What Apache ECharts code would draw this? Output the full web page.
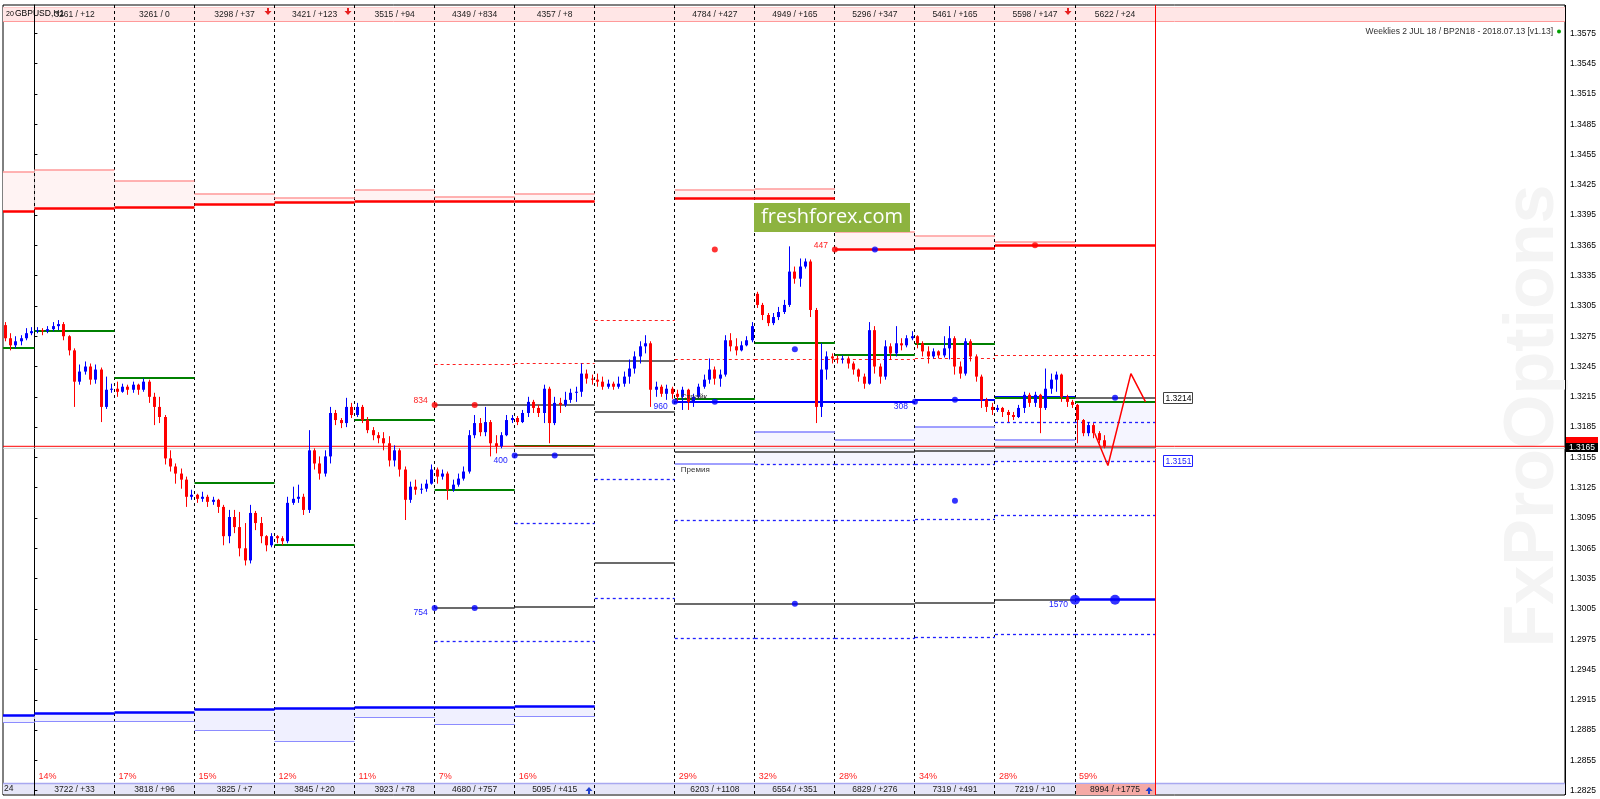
<!DOCTYPE html>
<html><head><meta charset="utf-8">
<script src="https://cdn.jsdelivr.net/npm/echarts@6/dist/echarts.min.js"></script>
<style>html,body{margin:0;padding:0;background:#fff}#c{width:1600px;height:799px}</style>
</head><body><div id="c"></div><script>
// ---------------- DATA ----------------
const symbolTitle = 'GBPUSD,H1';
const infoLabel = 'Weeklies 2 JUL 18 / BP2N18 - 2018.07.13 [v1.13]';
const yTicks = [1.2825,1.2855,1.2885,1.2915,1.2945,1.2975,1.3005,1.3035,1.3065,1.3095,1.3125,1.3155,1.3185,1.3215,1.3245,1.3275,1.3305,1.3335,1.3365,1.3395,1.3425,1.3455,1.3485,1.3515,1.3545,1.3575];
const bidPrice = 1.3166, bidLabel = '1.3165', askPrice = 1.3170;

// weeks: index 0 = partial week -1, then weeks 0..13
const weekIds = [-1,0,1,2,3,4,5,6,7,8,9,10,11,12,13];
const cellWeeks = [0,1,2,3,4,5,6,7,8,9,10,11,12,13];
const topCells = ['3261 / +12','3261 / 0','3298 / +37','3421 / +123','3515 / +94','4349 / +834','4357 / +8','','4784 / +427','4949 / +165','5296 / +347','5461 / +165','5598 / +147','5622 / +24'];
const topMarked = [2,3,12];
const bottomCells = ['3722 / +33','3818 / +96','3825 / +7','3845 / +20','3923 / +78','4680 / +757','5095 / +415','','6203 / +1108','6554 / +351','6829 / +276','7319 / +491','7219 / +10','8994 / +1775'];
const bottomPercents = ['14%','17%','15%','12%','11%','7%','16%','','29%','32%','28%','34%','28%','59%'];
const bottomMarked = [6,13];
const bottomHighlight = [13];
const expiryWeek = 14;

const upperThick = [1.3399,1.3401,1.3402,1.3405,1.3407,1.3408,1.3408,1.3408,null,1.3411,1.3411,1.3361,1.3362,1.3365,1.3365];
const upperThin  = [1.3438,1.3440,1.3429,1.3416,1.3412,1.3420,1.3413,1.3416,null,1.3420,1.3421,1.3378,1.3374,1.3368,null];
const lowerThick = [1.2899,1.2901,1.2902,1.2905,1.2906,1.2907,1.2907,1.2908,null,null,null,null,null,null,null];
const lowerThin  = [1.2892,1.2893,1.2893,1.2885,1.2874,1.2897,1.2891,1.2898,null,null,null,null,null,null,null];
const greenLevel = [1.3263,1.3280,1.3234,1.3130,1.3068,1.3192,1.3123,1.3166,null,1.3213,1.3268,1.3256,1.3267,1.3214,1.3210];
const blueMain   = [null,null,null,null,null,null,null,null,null,1.3210,1.3210,1.3210,1.3212,1.3215,null];

const grayLevels = [[5,1.3207],[6,1.3207],[5,1.3006],[6,1.3157],[6,1.3007],[7,1.3250],[7,1.3200],[7,1.3050],[8,1.3160],[8,1.3010],[9,1.3160],[9,1.3010],[10,1.3160],[10,1.3010],[11,1.3161],[11,1.3011],[12,1.3164],[12,1.3014],[13,1.3164],[13,1.3214]];
const blueDashed = [[5,1.2973],[6,1.2973],[6,1.3090],[7,1.3133],[7,1.3015],[8,1.3093],[8,1.2976],[9,1.3148],[9,1.3093],[9,1.2976],[10,1.3148],[10,1.3093],[10,1.2976],[11,1.3148],[11,1.3094],[11,1.2977],[12,1.3190],[12,1.3151],[12,1.3097],[12,1.2980],[13,1.3190],[13,1.3151],[13,1.3097],[13,1.2980]];
const redDashed = [[5,1.3247],[6,1.3248],[7,1.3291],[8,1.3252],[9,1.3252],[10,1.3252],[11,1.3253],[12,1.3256],[13,1.3256]];
const lightBlueLevels = [[8,1.3148],[9,1.3180],[10,1.3172],[11,1.3185],[12,1.3172]];
const lavenderZones = [[9,1.3180,1.3148],[10,1.3172,1.3148],[11,1.3185,1.3148],[12,1.3172,1.3151],[13,1.3210,1.3151]];
const blueStrikeLevel = [[13,1.3014]];

const redDots = [[5.0,1.3207],[5.5,1.3207],[8.5,1.3361],[10.0,1.3361],[12.5,1.3365]];
const blueDots = [[10.5,1.3361],[5.0,1.3006],[5.5,1.3006],[6.0,1.3157],[6.5,1.3157],[8.0,1.3210],[8.5,1.3210],[9.5,1.3262],[9.5,1.3010],[11.0,1.3210],[11.5,1.3212],[11.5,1.3112],[13.5,1.3214]];
const bigBlueDots = [[13.0,1.3014],[13.5,1.3014]];
const redNotes = [[5.0,1.3207,'834'],[10.0,1.3361,'447']];
const blueNotes = [[8.0,1.3210,'960'],[11.0,1.3210,'308'],[6.0,1.3157,'400'],[5.0,1.3006,'754'],[13.0,1.3014,'1570']];
const darkNotes = [[8.0,1.3210,'Страйк',-5],[8.0,1.3148,'Премия',5]];
const rightTags = [[14,1.3214,'1.3214'],[14,1.3151,'1.3151']];
const forecast = [[13.245,1.3179],[13.411,1.3147],[13.698,1.3238],[13.881,1.3210]];

// candles [open, close, low, high], 15 bars per week, first bar index -6
const firstBar = -6, barsPerWeek = 15;
const candles = [
[1.3286,1.3273,1.3270,1.3289],[1.3273,1.3266,1.3261,1.3278],[1.3266,1.3270,1.3263,1.3275],[1.3270,1.3273,1.3266,1.3276],[1.3273,1.3278,1.3271,1.3283],[1.3278,1.3280,1.3276,1.3284],
[1.3280,1.3281,1.3278,1.3284],[1.3281,1.3280,1.3276,1.3283],[1.3280,1.3282,1.3278,1.3285],[1.3282,1.3285,1.3280,1.3289],[1.3285,1.3287,1.3281,1.3291],[1.3287,1.3275,1.3271,1.3289],[1.3275,1.3261,1.3256,1.3276],[1.3261,1.3230,1.3205,1.3263],[1.3230,1.3240,1.3227,1.3247],[1.3240,1.3245,1.3237,1.3250],[1.3245,1.3232,1.3227,1.3248],[1.3232,1.3242,1.3228,1.3247],[1.3242,1.3205,1.3190,1.3244],[1.3205,1.3222,1.3203,1.3235],[1.3222,1.3223,1.3219,1.3228],
[1.3223,1.3220,1.3215,1.3230],[1.3220,1.3225,1.3219,1.3228],[1.3225,1.3222,1.3217,1.3227],[1.3222,1.3227,1.3219,1.3230],[1.3227,1.3222,1.3217,1.3228],[1.3222,1.3230,1.3220,1.3233],[1.3230,1.3215,1.3209,1.3232],[1.3215,1.3205,1.3187,1.3219],[1.3205,1.3195,1.3189,1.3215],[1.3195,1.3154,1.3148,1.3197],[1.3154,1.3146,1.3141,1.3162],[1.3146,1.3139,1.3129,1.3149],[1.3139,1.3133,1.3124,1.3144],[1.3133,1.3116,1.3106,1.3136],[1.3116,1.3118,1.3113,1.3123],
[1.3118,1.3114,1.3110,1.3119],[1.3114,1.3116,1.3111,1.3121],[1.3116,1.3111,1.3106,1.3118],[1.3111,1.3113,1.3108,1.3116],[1.3113,1.3106,1.3100,1.3114],[1.3106,1.3077,1.3068,1.3108],[1.3077,1.3096,1.3070,1.3103],[1.3096,1.3086,1.3080,1.3103],[1.3086,1.3065,1.3057,1.3101],[1.3065,1.3053,1.3048,1.3090],[1.3053,1.3100,1.3050,1.3108],[1.3100,1.3090,1.3083,1.3102],[1.3090,1.3077,1.3070,1.3096],[1.3077,1.3068,1.3062,1.3078],[1.3068,1.3077,1.3066,1.3080],
[1.3077,1.3075,1.3070,1.3078],[1.3075,1.3072,1.3068,1.3077],[1.3072,1.3110,1.3070,1.3116],[1.3110,1.3114,1.3108,1.3126],[1.3114,1.3116,1.3110,1.3128],[1.3116,1.3103,1.3098,1.3119],[1.3103,1.3162,1.3100,1.3182],[1.3162,1.3149,1.3143,1.3164],[1.3149,1.3139,1.3133,1.3156],[1.3139,1.3156,1.3136,1.3162],[1.3156,1.3199,1.3149,1.3205],[1.3199,1.3192,1.3187,1.3202],[1.3192,1.3189,1.3184,1.3194],[1.3189,1.3205,1.3185,1.3214],[1.3205,1.3197,1.3194,1.3209],
[1.3197,1.3205,1.3195,1.3209],[1.3205,1.3192,1.3189,1.3207],[1.3192,1.3182,1.3179,1.3195],[1.3182,1.3177,1.3172,1.3185],[1.3177,1.3174,1.3169,1.3180],[1.3174,1.3169,1.3162,1.3180],[1.3169,1.3152,1.3146,1.3176],[1.3152,1.3162,1.3146,1.3167],[1.3162,1.3143,1.3136,1.3164],[1.3143,1.3113,1.3093,1.3146],[1.3113,1.3126,1.3110,1.3131],[1.3126,1.3123,1.3118,1.3133],[1.3123,1.3124,1.3119,1.3129],[1.3124,1.3129,1.3121,1.3133],[1.3129,1.3143,1.3128,1.3148],
[1.3143,1.3136,1.3129,1.3145],[1.3136,1.3139,1.3133,1.3143],[1.3139,1.3123,1.3113,1.3141],[1.3123,1.3128,1.3121,1.3133],[1.3128,1.3134,1.3126,1.3139],[1.3134,1.3141,1.3132,1.3146],[1.3141,1.3177,1.3139,1.3182],[1.3177,1.3189,1.3174,1.3197],[1.3189,1.3180,1.3176,1.3194],[1.3180,1.3190,1.3176,1.3205],[1.3190,1.3169,1.3156,1.3192],[1.3169,1.3166,1.3159,1.3177],[1.3166,1.3177,1.3164,1.3180],[1.3177,1.3192,1.3176,1.3197],[1.3192,1.3194,1.3189,1.3197],
[1.3194,1.3190,1.3187,1.3196],[1.3190,1.3199,1.3189,1.3202],[1.3199,1.3210,1.3195,1.3215],[1.3210,1.3204,1.3199,1.3212],[1.3204,1.3199,1.3195,1.3207],[1.3199,1.3223,1.3189,1.3227],[1.3223,1.3189,1.3169,1.3225],[1.3189,1.3209,1.3187,1.3215],[1.3209,1.3207,1.3199,1.3214],[1.3207,1.3212,1.3205,1.3220],[1.3212,1.3219,1.3209,1.3223],[1.3219,1.3220,1.3210,1.3225],[1.3220,1.3238,1.3215,1.3248],[1.3238,1.3233,1.3228,1.3242],[1.3233,1.3232,1.3227,1.3237],
[1.3232,1.3230,1.3225,1.3238],[1.3230,1.3225,1.3222,1.3235],[1.3225,1.3228,1.3223,1.3232],[1.3228,1.3225,1.3222,1.3230],[1.3225,1.3228,1.3223,1.3235],[1.3228,1.3235,1.3225,1.3240],[1.3235,1.3243,1.3228,1.3252],[1.3243,1.3255,1.3238,1.3260],[1.3255,1.3265,1.3248,1.3270],[1.3265,1.3268,1.3258,1.3276],[1.3268,1.3222,1.3205,1.3270],[1.3222,1.3225,1.3215,1.3230],[1.3225,1.3218,1.3215,1.3227],[1.3218,1.3223,1.3212,1.3227],[1.3223,1.3218,1.3213,1.3225],
[1.3218,1.3215,1.3210,1.3222],[1.3215,1.3222,1.3202,1.3225],[1.3222,1.3210,1.3202,1.3223],[1.3210,1.3215,1.3205,1.3218],[1.3215,1.3225,1.3213,1.3228],[1.3225,1.3232,1.3223,1.3237],[1.3232,1.3242,1.3228,1.3253],[1.3242,1.3233,1.3227,1.3245],[1.3233,1.3237,1.3225,1.3242],[1.3237,1.3271,1.3235,1.3276],[1.3271,1.3265,1.3260,1.3278],[1.3265,1.3261,1.3256,1.3273],[1.3261,1.3266,1.3260,1.3270],[1.3266,1.3271,1.3265,1.3275],[1.3271,1.3285,1.3269,1.3289],
[1.3317,1.3306,1.3303,1.3319],[1.3306,1.3296,1.3291,1.3308],[1.3296,1.3288,1.3285,1.3298],[1.3288,1.3294,1.3286,1.3298],[1.3294,1.3299,1.3291,1.3304],[1.3299,1.3306,1.3297,1.3311],[1.3306,1.3339,1.3304,1.3364],[1.3339,1.3332,1.3327,1.3344],[1.3332,1.3344,1.3324,1.3352],[1.3344,1.3349,1.3342,1.3352],[1.3349,1.3301,1.3294,1.3351],[1.3301,1.3205,1.3189,1.3303],[1.3205,1.3242,1.3195,1.3268],[1.3242,1.3255,1.3232,1.3260],[1.3255,1.3253,1.3248,1.3258],
[1.3253,1.3252,1.3248,1.3256],[1.3252,1.3253,1.3248,1.3256],[1.3253,1.3248,1.3243,1.3255],[1.3248,1.3242,1.3237,1.3250],[1.3242,1.3235,1.3230,1.3243],[1.3235,1.3228,1.3223,1.3238],[1.3228,1.3281,1.3227,1.3289],[1.3281,1.3245,1.3238,1.3285],[1.3245,1.3235,1.3228,1.3248],[1.3235,1.3265,1.3232,1.3271],[1.3265,1.3258,1.3252,1.3268],[1.3258,1.3268,1.3255,1.3285],[1.3268,1.3266,1.3261,1.3273],[1.3266,1.3273,1.3264,1.3276],[1.3273,1.3275,1.3271,1.3280],
[1.3275,1.3268,1.3263,1.3276],[1.3268,1.3260,1.3255,1.3270],[1.3260,1.3255,1.3248,1.3265],[1.3255,1.3260,1.3253,1.3263],[1.3260,1.3256,1.3253,1.3261],[1.3256,1.3263,1.3254,1.3275],[1.3263,1.3273,1.3252,1.3285],[1.3273,1.3245,1.3237,1.3275],[1.3245,1.3238,1.3233,1.3250],[1.3238,1.3270,1.3236,1.3273],[1.3270,1.3255,1.3250,1.3272],[1.3255,1.3235,1.3230,1.3257],[1.3235,1.3212,1.3204,1.3237],[1.3212,1.3205,1.3200,1.3214],[1.3205,1.3202,1.3197,1.3209],
[1.3202,1.3204,1.3200,1.3207],[1.3204,1.3200,1.3195,1.3205],[1.3200,1.3197,1.3190,1.3202],[1.3197,1.3195,1.3192,1.3200],[1.3195,1.3204,1.3194,1.3207],[1.3204,1.3217,1.3199,1.3220],[1.3217,1.3209,1.3205,1.3219],[1.3209,1.3217,1.3205,1.3220],[1.3217,1.3204,1.3179,1.3218],[1.3204,1.3223,1.3202,1.3243],[1.3223,1.3232,1.3218,1.3238],[1.3232,1.3237,1.3220,1.3240],[1.3237,1.3215,1.3210,1.3238],[1.3215,1.3210,1.3205,1.3217],[1.3210,1.3207,1.3204,1.3212],
[1.3207,1.3192,1.3169,1.3208],[1.3192,1.3179,1.3176,1.3193],[1.3179,1.3187,1.3176,1.3190],[1.3187,1.3179,1.3174,1.3189],[1.3179,1.3172,1.3169,1.3181],[1.3172,1.3166,1.3164,1.3177]
];

// ---------------- LAYOUT / HELPERS ----------------
const X_MIN = -0.3923, X_MAX = 19.121, Y_MIN = 1.28207, Y_MAX = 1.3603;
const FONT = '"Liberation Sans", Arial, sans-serif';
const chart = echarts.init(document.getElementById('c'), null, {renderer:'canvas', width:1600, height:799});

function levelPairs(arr){ const o=[]; arr.forEach((v,i)=>{ if(v!=null) o.push([weekIds[i], v]); }); return o; }
function zonePairs(a,b){ const o=[]; a.forEach((v,i)=>{ if(v!=null && b[i]!=null) o.push([weekIds[i], v, b[i]]); }); return o; }

function segSeries(data, stroke, width, dash, z){
  return {type:'custom', z, silent:true, animation:false, clip:false, data,
    renderItem(params, api){
      const cs = params.coordSys, k = api.value(0), p = api.value(1);
      const a = api.coord([k,p]), b = api.coord([k+1,p]);
      const x1 = Math.max(a[0], cs.x), x2 = Math.min(b[0], cs.x+cs.width);
      const y = (Math.round(width) % 2 === 1) ? Math.floor(a[1]) + 0.5 : Math.round(a[1]);
      return {type:'line', shape:{x1, y1:y, x2, y2:y}, style:{stroke, lineWidth:width, lineDash:dash||null, fill:null}};
    }};
}
function zoneSeries(data, color, z){
  return {type:'custom', z, silent:true, animation:false, clip:false, data,
    renderItem(params, api){
      const cs = params.coordSys, k = api.value(0);
      const a = api.coord([k, api.value(1)]), b = api.coord([k+1, api.value(2)]);
      const x1 = Math.max(a[0], cs.x), x2 = Math.min(b[0], cs.x+cs.width);
      return {type:'rect', shape:{x:x1, y:Math.min(a[1],b[1]), width:x2-x1, height:Math.abs(b[1]-a[1])}, style:{fill:color}};
    }};
}
function textSeries(items, color, dx, dy, align, z, font){
  return {type:'custom', z, silent:true, animation:false, clip:false,
    data: items.map(d=>[d[0], d[1]]),
    renderItem(params, api){
      const it = items[params.dataIndex];
      const pt = api.coord([api.value(0), api.value(1)]);
      const oy = it.length > 3 ? it[3] : dy;
      return {type:'text', x: pt[0]+dx, y: pt[1]+oy,
        style:{text: it[2], fill: color, font: font || ('8.5px ' + FONT), align, textAlign:align, verticalAlign:'middle', textVerticalAlign:'middle'}};
    }};
}

const candleData = candles.map((c,i)=>[(firstBar+i+0.5)/barsPerWeek, c[0], c[1], c[2], c[3]]);

const series = [];
// zones
series.push(zoneSeries(zonePairs(upperThin, upperThick), '#fff3f3', 1));
series.push(zoneSeries(zonePairs(lowerThick, lowerThin), '#f0f0ff', 1));
series.push(zoneSeries(lavenderZones, '#f5f5ff', 1));
// week separators
series.push({type:'custom', z:2, silent:true, animation:false, clip:false,
  data: cellWeeks.map(k=>[k, 1.32]),
  renderItem(params, api){
    const cs = params.coordSys; const x = Math.floor(api.coord([api.value(0),1.32])[0]) + 0.5;
    return {type:'line', shape:{x1:x, y1:cs.y, x2:x, y2:cs.y+cs.height}, style:{stroke:'#000', lineWidth:1, lineDash:[3,3]}};
  }});
series.push({type:'custom', z:2, silent:true, animation:false, clip:false,
  data: [[expiryWeek, 1.32]],
  renderItem(params, api){
    const cs = params.coordSys; const x = Math.floor(api.coord([api.value(0),1.32])[0]) + 0.5;
    return {type:'line', shape:{x1:x, y1:cs.y, x2:x, y2:cs.y+cs.height}, style:{stroke:'#ff0000', lineWidth:1}};
  }});
// level lines
series.push(segSeries(levelPairs(upperThin), '#ff9a9a', 1.5, null, 3));
series.push(segSeries(levelPairs(upperThick), '#ff0000', 2.5, null, 3));
series.push(segSeries(levelPairs(lowerThin), '#8c8cff', 1, null, 3));
series.push(segSeries(levelPairs(lowerThick), '#0000ff', 2.5, null, 3));
series.push(segSeries(lightBlueLevels, '#8080ff', 1.5, null, 3));
series.push(segSeries(redDashed, '#ff2020', 1, [3,3], 3));
series.push(segSeries(blueDashed, '#2020ff', 1.3, [3,3], 3));
series.push(segSeries(grayLevels, '#3a3a3a', 1.6, null, 3));
series.push(segSeries(levelPairs(blueMain), '#0000ff', 2, null, 3));
series.push(segSeries(levelPairs(greenLevel), '#008000', 2, null, 4));
series.push(segSeries(blueStrikeLevel, '#0000ff', 2.5, null, 4));
// current price lines
series.push({type:'line', z:5, silent:true, animation:false, symbol:'none', data:[[X_MIN, bidPrice-0.0002],[X_MAX, bidPrice-0.0002]], lineStyle:{color:'#d0d0d0', width:1}});
series.push({type:'line', z:5, silent:true, animation:false, symbol:'none', data:[[X_MIN, bidPrice],[X_MAX, bidPrice]], lineStyle:{color:'#ff0000', width:1}});
// candles
series.push({type:'custom', z:6, silent:true, animation:false, clip:false, data: candleData,
  renderItem(params, api){
    const x = api.value(0), o = api.value(1), c = api.value(2), l = api.value(3), h = api.value(4);
    const po = api.coord([x,o]), pc = api.coord([x,c]), pl = api.coord([x,l]), ph = api.coord([x,h]);
    const col = c >= o ? '#0000ff' : '#ff0000';
    const xx = Math.floor(po[0]) + 0.5;
    const top = Math.min(po[1], pc[1]), bot = Math.max(po[1], pc[1]);
    return {type:'group', children:[
      {type:'line', shape:{x1:xx, y1:ph[1], x2:xx, y2:pl[1]}, style:{stroke:col, lineWidth:1}},
      {type:'rect', shape:{x:xx-1.5, y:top, width:3, height:Math.max(bot-top,1)}, style:{fill:col}}
    ]};
  }});
// forecast zigzag
series.push({type:'line', z:7, silent:true, animation:false, symbol:'none', data:forecast, lineStyle:{color:'#ff0000', width:1.5}});
// dots
series.push({type:'scatter', z:8, silent:true, animation:false, data:redDots, symbolSize:6, itemStyle:{color:'#ff0000'}});
series.push({type:'scatter', z:8, silent:true, animation:false, data:blueDots, symbolSize:6, itemStyle:{color:'#0000ff'}});
series.push({type:'scatter', z:8, silent:true, animation:false, data:bigBlueDots, symbolSize:10, itemStyle:{color:'#0000ff'}});
// notes
series.push(textSeries(redNotes, '#ff2020', -7, -4, 'right', 9));
series.push(textSeries(blueNotes, '#2020ff', -7, 5, 'right', 9));
series.push(textSeries(darkNotes, '#333333', 6, 0, 'left', 9, '8px ' + FONT));
// right tags at line ends
series.push({type:'custom', z:9, silent:true, animation:false, clip:false, data: rightTags.map(d=>[d[0], d[1]]),
  renderItem(params, api){
    const it = rightTags[params.dataIndex]; const pt = api.coord([api.value(0), api.value(1)]);
    const col = params.dataIndex === 0 ? '#404040' : '#2020ff';
    const x = Math.round(pt[0]) + 8.5, y = Math.round(pt[1]) - 5.5;
    return {type:'group', children:[
      {type:'rect', shape:{x, y, width:29, height:11}, style:{fill:'#fff', stroke:col, lineWidth:1}},
      {type:'text', x:x+2, y:y+6, style:{text:it[2], fill:col === '#404040' ? '#000' : col, font:'8.5px ' + FONT, align:'left', textAlign:'left', verticalAlign:'middle', textVerticalAlign:'middle'}}
    ]};
  }});
// price tags on axis
series.push({type:'custom', z:20, silent:true, animation:false, clip:false, data:[[X_MAX, askPrice],[X_MAX, 1.3165]],
  renderItem(params, api){
    const cs = params.coordSys; const pt = api.coord([api.value(0), api.value(1)]);
    const x = cs.x + cs.width + 1, y = Math.round(pt[1]) - 4;
    if (params.dataIndex === 0) return {type:'rect', shape:{x, y:y-1, width:32, height:7}, style:{fill:'#ff0000'}};
    return {type:'group', children:[
      {type:'rect', shape:{x, y, width:32, height:9}, style:{fill:'#000'}},
      {type:'text', x:x+3, y:y+4.5, style:{text:bidLabel, fill:'#fff', font:'8.5px ' + FONT, align:'left', textAlign:'left', verticalAlign:'middle', textVerticalAlign:'middle'}}
    ]};
  }});
// strips: top cells
series.push({type:'custom', z:10, silent:true, animation:false, clip:false, data: cellWeeks.map(k=>[k, 1.32]),
  renderItem(params, api){
    const cs = params.coordSys, k = api.value(0), i = params.dataIndex;
    const x0 = api.coord([k,1.32])[0], x1 = api.coord([k+1,1.32])[0];
    const ch = [];
    if (topCells[i]) ch.push({type:'text', x:(x0+x1)/2, y:cs.y+9.5, style:{text:topCells[i], fill:'#202020', font:'8.5px ' + FONT, align:'center', textAlign:'center', verticalAlign:'middle', textVerticalAlign:'middle'}});
    if (topMarked.indexOf(k) >= 0) {
      const ax = Math.round(x1) - 7, ay = cs.y + 3;
      ch.push({type:'polygon', shape:{points:[[ax-1,ay],[ax+1,ay],[ax+1,ay+3],[ax+3.5,ay+3],[ax,ay+7],[ax-3.5,ay+3],[ax-1,ay+3]]}, style:{fill:'#e82020'}});
    }
    return {type:'group', children:ch};
  }});
// strips: bottom cells
series.push({type:'custom', z:10, silent:true, animation:false, clip:false, data: cellWeeks.map(k=>[k, 1.32]),
  renderItem(params, api){
    const cs = params.coordSys, k = api.value(0), i = params.dataIndex;
    const x0 = api.coord([k,1.32])[0], x1 = api.coord([k+1,1.32])[0];
    const yb = cs.y + cs.height; const ch = [];
    if (bottomHighlight.indexOf(k) >= 0) ch.push({type:'rect', shape:{x:Math.round(x0)+1, y:yb-11, width:Math.round(x1-x0)-1, height:11}, style:{fill:'#f5aaa6'}});
    if (bottomCells[i]) ch.push({type:'text', x:(x0+x1)/2, y:yb-5.5, style:{text:bottomCells[i], fill:'#202020', font:'8.5px ' + FONT, align:'center', textAlign:'center', verticalAlign:'middle', textVerticalAlign:'middle'}});
    if (bottomPercents[i]) ch.push({type:'text', x:x0+4, y:yb-18, style:{text:bottomPercents[i], fill:'#ff2020', font:'9px ' + FONT, align:'left', textAlign:'left', verticalAlign:'middle', textVerticalAlign:'middle'}});
    if (bottomMarked.indexOf(k) >= 0) {
      const ax = Math.round(x1) - 6, ay = yb - 1;
      ch.push({type:'polygon', shape:{points:[[ax-1,ay],[ax+1,ay],[ax+1,ay-3],[ax+3.5,ay-3],[ax,ay-7],[ax-3.5,ay-3],[ax-1,ay-3]]}, style:{fill:'#2040d0'}});
    }
    return {type:'group', children:ch};
  }});

const option = {
  animation:false,
  backgroundColor:'#ffffff',
  grid:{left:3, right:35, top:5, bottom:4, show:true, borderColor:'#000', borderWidth:1, backgroundColor:'transparent'},
  xAxis:{type:'value', min:X_MIN, max:X_MAX, show:false},
  yAxis:{type:'value', position:'right', min:Y_MIN, max:Y_MAX, scale:true,
    axisLine:{show:true, lineStyle:{color:'#000', width:1}},
    axisTick:{show:true, customValues:yTicks, length:3, lineStyle:{color:'#000'}},
    axisLabel:{show:true, customValues:yTicks, formatter:v=>v.toFixed(4), fontSize:8.5, color:'#000', margin:5, fontFamily:FONT},
    splitLine:{show:false}},
  graphic:[
    {type:'rect', z:0, silent:true, shape:{x:3, y:7, width:1562, height:14}, style:{fill:'#ffe6e6'}},
    {type:'line', z:0, silent:true, shape:{x1:3, y1:21.5, x2:1565, y2:21.5}, style:{stroke:'#ff9a9a', lineWidth:1}},
    {type:'line', z:0, silent:true, shape:{x1:3, y1:7.5, x2:1565, y2:7.5}, style:{stroke:'#ffcccc', lineWidth:1}},
    {type:'rect', z:0, silent:true, shape:{x:3, y:783, width:1562, height:11}, style:{fill:'#e6e6f8'}},
    {type:'line', z:0, silent:true, shape:{x1:3, y1:783.5, x2:1565, y2:783.5}, style:{stroke:'#a8a8f0', lineWidth:1.5}},
    {type:'text', z:0, silent:true, x:1534, y:416, rotation:Math.PI/2, style:{text:'FxProOptions', font:'bold 70px ' + FONT, fill:'#f4f4f4', align:'center', textAlign:'center', verticalAlign:'middle', textVerticalAlign:'middle'}},
    {type:'line', z:1, silent:true, shape:{x1:1565.5, y1:5, x2:1565.5, y2:795}, style:{stroke:'#000', lineWidth:1}},
    {type:'rect', z:50, silent:true, shape:{x:754, y:203, width:156, height:29}, style:{fill:'#8db33f'}},
    {type:'text', z:51, silent:true, x:832, y:217, style:{text:'freshforex.com', font:'20px "Open Sans", sans-serif', fill:'#ffffff', align:'center', textAlign:'center', verticalAlign:'middle', textVerticalAlign:'middle'}},
    {type:'text', z:50, silent:true, x:1553, y:32, style:{text:infoLabel, font:'8.5px ' + FONT, fill:'#303030', align:'right', textAlign:'right', verticalAlign:'middle', textVerticalAlign:'middle'}},
    {type:'circle', z:50, silent:true, shape:{cx:1559, cy:31.5, r:2}, style:{fill:'#00a000'}},
    {type:'text', z:50, silent:true, x:6, y:14, style:{text:'20', font:'7px ' + FONT, fill:'#000', align:'left', textAlign:'left', verticalAlign:'middle', textVerticalAlign:'middle'}},
    {type:'text', z:50, silent:true, x:15, y:13.5, style:{text:symbolTitle, font:'8.5px ' + FONT, fill:'#000', align:'left', textAlign:'left', verticalAlign:'middle', textVerticalAlign:'middle'}},
    {type:'text', z:50, silent:true, x:4, y:788.5, style:{text:'24', font:'8.5px ' + FONT, fill:'#202020', align:'left', textAlign:'left', verticalAlign:'middle', textVerticalAlign:'middle'}}
  ],
  series
};
chart.setOption(option);
</script></body></html>
